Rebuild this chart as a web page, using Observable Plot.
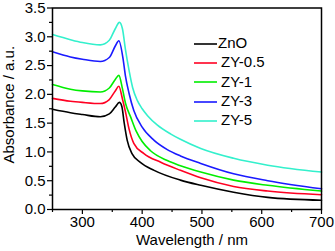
<!DOCTYPE html>
<html>
<head>
<meta charset="utf-8">
<script src="https://cdn.jsdelivr.net/npm/d3@7"></script>
<script src="https://cdn.jsdelivr.net/npm/@observablehq/plot@0.6"></script>
<style>
  html, body { margin: 0; padding: 0; background: #fff; }
  #wrap { position: relative; width: 335px; height: 251px; font-family: Arial, "Liberation Sans", sans-serif; }
  #legend { position: absolute; left: 194px; top: 33px; font-size: 15px; color: #000; }
  .row { display: flex; align-items: center; height: 19.3px; }
  .row svg { margin-right: 4px; margin-top: 2px; }
</style>
</head>
<body>
<div id="wrap"><div id="legend"></div></div>
<script>
const seriesNames = ["ZnO", "ZY-0.5", "ZY-1", "ZY-3", "ZY-5"];
const seriesColors = ["#000000", "#ff0022", "#00ee00", "#1a1aff", "#33f0cc"];

const znoWl = [250,280,300,330,345,355,362,366,370,375,383,397,420,464,498,553,610,700];
const znoAbs = [1.74,1.68,1.65,1.61,1.66,1.78,1.86,1.79,1.50,1.20,0.97,0.82,0.68,0.51,0.42,0.30,0.21,0.16];

const zy05Wl = [250,280,300,330,345,355,361,367,372,378,386,403,431,464,498,553,610,700];
const zy05Abs = [1.93,1.88,1.86,1.84,1.91,2.06,2.14,1.92,1.70,1.40,1.15,0.97,0.82,0.68,0.55,0.40,0.32,0.255];

const zy1Wl = [250,280,300,330,345,355,361,367,372,381,390,400,414,442,464,498,553,610,700];
const zy1Abs = [2.17,2.09,2.06,2.04,2.11,2.26,2.33,2.10,1.85,1.60,1.36,1.18,1.02,0.85,0.76,0.65,0.51,0.42,0.32];

const zy3Wl = [250,280,300,330,345,355,361,368,372,378,386,400,420,442,464,498,553,610,700];
const zy3Abs = [2.74,2.65,2.61,2.57,2.64,2.84,2.93,2.62,2.32,2.02,1.72,1.43,1.20,1.04,0.93,0.80,0.62,0.50,0.36];

const zy5Wl = [250,280,300,330,345,355,362,367,372,378,384,392,400,409,425,448,464,498,553,610,700];
const zy5Abs = [3.04,2.95,2.90,2.86,2.94,3.14,3.25,3.14,2.78,2.42,2.12,1.89,1.75,1.63,1.47,1.31,1.22,1.06,0.89,0.77,0.65];

const xMajor = [300,400,500,600,700];
const xMinor = [250,350,450,550,650];
const yMajor = [0,0.5,1.0,1.5,2.0,2.5,3.0,3.5];
const yMinor = [0.25,0.75,1.25,1.75,2.25,2.75,3.25];
const xTitle = "Wavelength / nm";
const yTitle = "Absorbance / a.u.";

const allWl = [znoWl, zy05Wl, zy1Wl, zy3Wl, zy5Wl];
const allAbs = [znoAbs, zy05Abs, zy1Abs, zy3Abs, zy5Abs];
const rows = [];
seriesNames.forEach((name, i) => {
  allWl[i].forEach((w, j) => rows.push({series: name, wl: w, abs: allAbs[i][j]}));
});

const chart = Plot.plot({
  width: 335,
  height: 251,
  marginLeft: 52,
  marginRight: 14,
  marginTop: 7.5,
  marginBottom: 42,
  style: {fontFamily: "Arial, 'Liberation Sans', sans-serif", fontSize: "15px", color: "#000", background: "#fff"},
  x: {domain: [250, 700]},
  y: {domain: [0, 3.5]},
  color: {domain: seriesNames, range: seriesColors},
  marks: [
    Plot.line(rows, {x: "wl", y: "abs", z: "series", stroke: "series", strokeWidth: 1.6, curve: "monotone-x"}),
    Plot.frame({stroke: "#000", strokeWidth: 1.5}),
    Plot.axisX({ticks: xMajor, tickSize: 5, tickPadding: 2, tickFormat: d3.format("d"), label: null, fontSize: 15, strokeWidth: 1.2}),
    Plot.axisX({ticks: xMinor, tickSize: 3, text: null, label: null, strokeWidth: 1.2}),
    Plot.axisY({ticks: yMajor, tickSize: 5, tickPadding: 2, tickFormat: d3.format(".1f"), label: null, fontSize: 15, strokeWidth: 1.2}),
    Plot.axisY({ticks: yMinor, tickSize: 3, text: null, label: null, strokeWidth: 1.2}),
    Plot.text([xTitle], {frameAnchor: "bottom", dy: 35, dx: 5, fontSize: 15, lineAnchor: "bottom"}),
    Plot.text([yTitle], {frameAnchor: "left", textAnchor: "middle", rotate: -90, dx: -43, dy: -4, fontSize: 15})
  ]
});
const wrap = document.getElementById("wrap");
wrap.insertBefore(chart, wrap.firstChild);

const legend = document.getElementById("legend");
const NS = "http://www.w3.org/2000/svg";
seriesNames.forEach((name, i) => {
  const r = document.createElement("div");
  r.className = "row";
  const s = document.createElementNS(NS, "svg");
  s.setAttribute("width", "23");
  s.setAttribute("height", "4");
  const ln = document.createElementNS(NS, "line");
  ln.setAttribute("x1", "0"); ln.setAttribute("x2", "23");
  ln.setAttribute("y1", "2"); ln.setAttribute("y2", "2");
  ln.setAttribute("stroke", seriesColors[i]);
  ln.setAttribute("stroke-width", "1.6");
  s.appendChild(ln);
  if (i === 0) s.style.marginRight = "1px";
  const t = document.createElement("span");
  t.textContent = name;
  r.appendChild(s);
  r.appendChild(t);
  legend.appendChild(r);
});
</script>
</body>
</html>
